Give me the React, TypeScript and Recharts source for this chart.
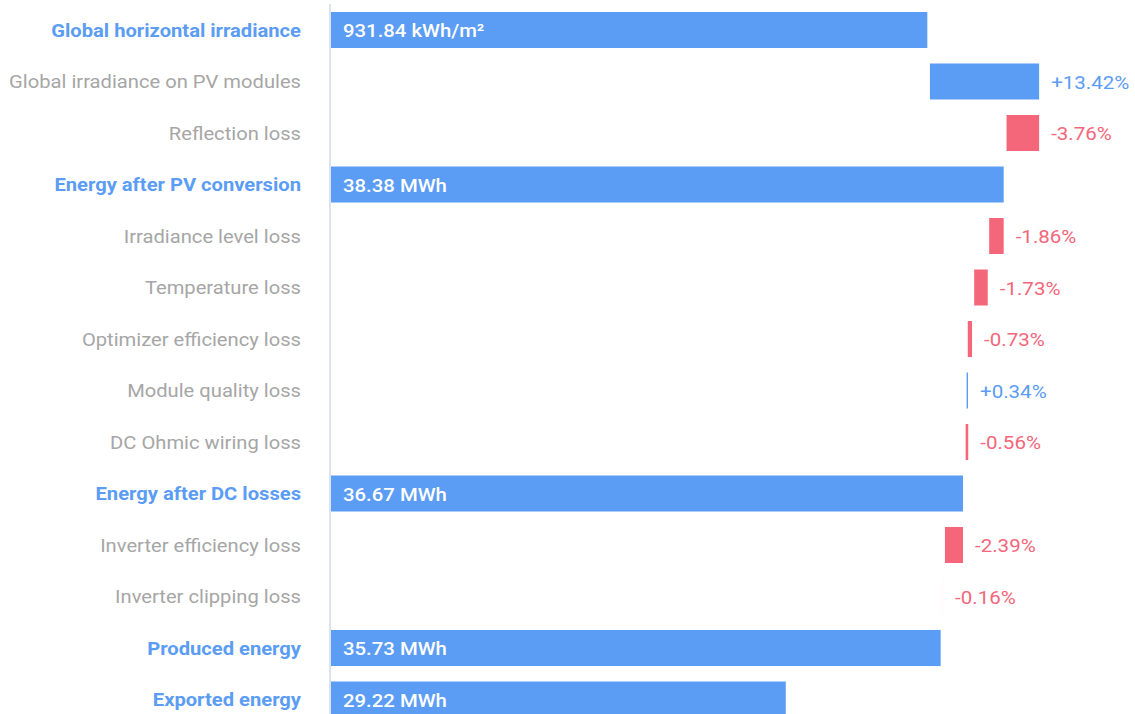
import { BarChart, Bar, XAxis, YAxis, Cell, LabelList } from 'recharts'

const categories = [
  'Global horizontal irradiance',
  'Global irradiance on PV modules',
  'Reflection loss',
  'Energy after PV conversion',
  'Irradiance level loss',
  'Temperature loss',
  'Optimizer efficiency loss',
  'Module quality loss',
  'DC Ohmic wiring loss',
  'Energy after DC losses',
  'Inverter efficiency loss',
  'Inverter clipping loss',
  'Produced energy',
  'Exported energy',
]

// total = full bar from the axis, gain / loss = floating step
const kinds = [
  'total', 'gain', 'loss', 'total', 'loss', 'loss', 'loss',
  'gain', 'loss', 'total', 'loss', 'loss', 'total', 'total',
]

// MWh-equivalent levels
const barStart = [0, 35.28, 38.5, 0, 37.77, 37.14, 36.87, 36.82, 36.78, 0, 35.91, 35.828, 0, 0]
const barEnd = [35.17, 39.87, 39.87, 38.38, 38.38, 37.71, 37.05, 36.88, 36.89, 36.67, 36.67, 35.83, 35.73, 29.22]

const valueLabels = [
  '931.84 kWh/m²', '+13.42%', '-3.76%', '38.38 MWh', '-1.86%', '-1.73%', '-0.73%',
  '+0.34%', '-0.56%', '36.67 MWh', '-2.39%', '-0.16%', '35.73 MWh', '29.22 MWh',
]

const BLUE = '#5b9cf4'
const RED = '#f4667a'
const GREY = '#a6a6a6'
const FONT = 'Roboto, sans-serif'

const data = categories.map((name, i) => ({
  name,
  kind: kinds[i],
  range: [barStart[i], barEnd[i]],
  text: valueLabels[i],
}))

// the source text is a bit wider than plain Roboto, stretch it slightly
function CategoryTick({ x, y, payload }: any) {
  const row = data.find((d) => d.name === payload.value)
  const total = row?.kind === 'total'
  return (
    <text
      transform={`translate(${x},${y + 7}) scale(1.12,1)`}
      textAnchor="end"
      fontFamily={FONT}
      fontSize={18}
      fontWeight={total ? 700 : 400}
      fill={total ? BLUE : GREY}
    >
      {payload.value}
    </text>
  )
}

function ValueLabel({ x, y, width, height, index }: any) {
  const row = data[index]
  if (!row) return null
  const cy = y + height / 2 + 7
  if (row.kind === 'total') {
    return (
      <text
        transform={`translate(${330 + 13},${cy}) scale(1.13,1)`}
        fontFamily={FONT}
        fontSize={18}
        fontWeight={500}
        fill="#ffffff"
      >
        {row.text}
      </text>
    )
  }
  return (
    <text
      transform={`translate(${x + width + 12},${cy}) scale(1.14,1)`}
      fontFamily={FONT}
      fontSize={18}
      fill={row.kind === 'gain' ? BLUE : RED}
    >
      {row.text}
    </text>
  )
}

export default function App() {
  return (
    <div style={{ position: 'absolute', left: 0, top: 0, background: '#fff' }}>
      <BarChart
        width={1135}
        height={730}
        data={data}
        layout="vertical"
        margin={{ top: 4, right: 0, bottom: 5, left: 0 }}
      >
        <XAxis type="number" domain={[10.06, 43.9]} allowDataOverflow hide />
        <YAxis
          type="category"
          dataKey="name"
          width={330}
          tickLine={false}
          tickSize={0}
          tickMargin={29}
          axisLine={{ stroke: '#dde3ec', strokeWidth: 2 }}
          tick={<CategoryTick />}
          interval={0}
        />
        <Bar dataKey="range" barSize={36} isAnimationActive={false}>
          {data.map((d) => (
            <Cell key={d.name} fill={d.kind === 'loss' ? RED : BLUE} />
          ))}
          <LabelList dataKey="text" content={<ValueLabel />} />
        </Bar>
      </BarChart>
    </div>
  )
}
